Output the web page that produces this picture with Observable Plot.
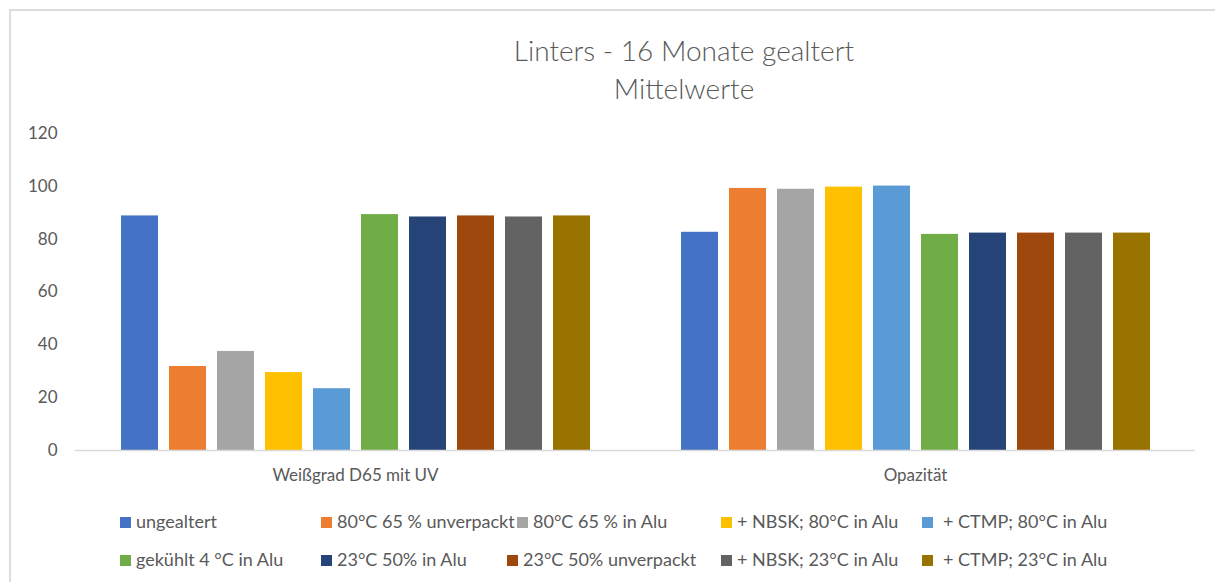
<!DOCTYPE html>
<html>
<head>
<meta charset="utf-8">
<script src="https://cdn.jsdelivr.net/npm/d3@7"></script>
<script src="https://cdn.jsdelivr.net/npm/@observablehq/plot@0.6"></script>
<style>
  html, body { margin: 0; padding: 0; background: #fff; }
  body { width: 1215px; height: 582px; position: relative; overflow: hidden; font-family: Lato, "Noto Sans", sans-serif; color: #595959; }
  #frame { position: absolute; left: 9px; top: 9px; width: 1300px; height: 700px; border-left: 2px solid #dcdcdc; border-top: 2px solid #dcdcdc; }
  #title { position: absolute; left: 434px; width: 500px; top: 31px; text-align: center; font-weight: 300; font-size: 28px; line-height: 38px; color: #595959; }
  #chart { position: absolute; left: 0; top: 120px; }
  .leg { position: absolute; font-size: 18px; line-height: 22px; white-space: nowrap; color: #595959; }
  .leg .sw { display: inline-block; width: 11px; height: 11px; margin-right: 5px; vertical-align: 0px; }
</style>
</head>
<body>
<div id="frame"></div>
<div id="title">Linters - 16 Monate gealtert<br>Mittelwerte</div>
<div id="chart"></div>
<div id="legend"></div>
<script>
const categories = ["Weißgrad D65 mit UV", "Opazität"];
const series = [
  "ungealtert",
  "80°C 65 % unverpackt",
  "80°C 65 % in Alu",
  "+ NBSK; 80°C in Alu",
  "+ CTMP; 80°C in Alu",
  "gekühlt 4 °C in Alu",
  "23°C 50% in Alu",
  "23°C 50% unverpackt",
  "+ NBSK; 23°C in Alu",
  "+ CTMP; 23°C in Alu"
];
const weissgrad = [88.8, 31.8, 37.5, 29.5, 23.4, 89.3, 88.4, 88.8, 88.4, 88.8];
const opazitaet = [82.6, 99.2, 98.9, 99.7, 100.1, 81.8, 82.3, 82.3, 82.3, 82.3];
const yTicks = [0, 20, 40, 60, 80, 100, 120];
const colors = ["#4472C4", "#ED7D31", "#A5A5A5", "#FFC000", "#5B9BD5", "#70AD47", "#264478", "#9E480E", "#636363", "#997300"];

const data = [];
series.forEach((s, i) => {
  data.push({cat: categories[0], series: s, value: weissgrad[i]});
  data.push({cat: categories[1], series: s, value: opazitaet[i]});
});

const chart = Plot.plot({
  width: 1215,
  height: 370,
  marginLeft: 75,
  marginRight: 20,
  marginTop: 13,
  marginBottom: 40,
  style: {fontFamily: "Lato, 'Noto Sans', sans-serif", fontSize: "17px", color: "#595959", background: "transparent", overflow: "visible"},
  fx: {domain: categories, padding: 0, label: null, axis: "bottom", tickSize: 0, tickPadding: 18},
  x: {domain: series, paddingInner: 0.23, paddingOuter: 0.865, axis: null},
  y: {domain: [0, 120], ticks: yTicks, tickSize: 0, tickPadding: 18, label: null},
  color: {domain: series, range: colors},
  marks: [
    Plot.barY(data, {fx: "cat", x: "series", y: "value", fill: "series"}),
    Plot.ruleY([0], {stroke: "#d9d9d9", strokeWidth: 1.5})
  ]
});
document.getElementById("chart").appendChild(chart);

// legend (HTML), two rows of five entries
const legCols = [[120, 321, 517, 721, 922], [120, 321, 507, 721, 922]];
const legRows = [510, 548];
const legend = document.getElementById("legend");
series.forEach((s, i) => {
  const r = Math.floor(i / 5), c = i % 5;
  const el = document.createElement("div");
  el.className = "leg";
  el.style.left = legCols[r][c] + "px";
  el.style.top = legRows[r] + "px";
  const sw = document.createElement("span");
  sw.className = "sw";
  sw.style.background = colors[i];
  if (c === 4) sw.style.marginRight = "10px";
  el.appendChild(sw);
  el.appendChild(document.createTextNode(s));
  legend.appendChild(el);
});
</script>
</body>
</html>
